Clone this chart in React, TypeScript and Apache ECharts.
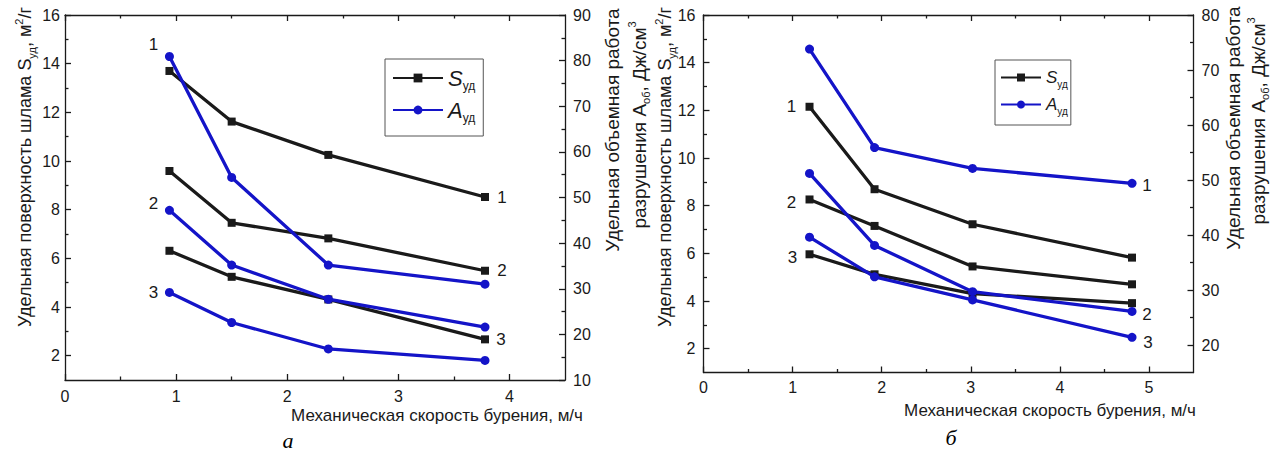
import React, { useEffect, useRef } from 'react';
import * as echarts from 'echarts';

// ---- data: chart а ----
const xA = [0.94, 1.5, 2.37, 3.78];
const sA1 = [13.7, 11.62, 10.25, 8.52];
const sA2 = [9.59, 7.46, 6.82, 5.49];
const sA3 = [6.31, 5.24, 4.31, 2.67];
const aA1 = [80.9, 54.4, 35.2, 31.0];
const aA2 = [47.2, 35.2, 27.7, 21.6];
const aA3 = [29.2, 22.6, 16.8, 14.3];

// ---- data: chart б ----
const xB = [1.19, 1.92, 3.02, 4.81];
const sB1 = [12.15, 8.69, 7.22, 5.82];
const sB2 = [8.26, 7.15, 5.45, 4.7];
const sB3 = [5.96, 5.12, 4.31, 3.91];
const aB1 = [73.8, 55.9, 52.1, 49.4];
const aB2 = [51.2, 38.1, 29.7, 26.1];
const aB3 = [39.6, 32.4, 28.2, 21.4];

// ---- ticks ----
const xTickA = [0, 1, 2, 3, 4];
const xMinorA = [0.5, 1.5, 2.5, 3.5];
const xTickB = [0, 1, 2, 3, 4, 5];
const xMinorB = [0.5, 1.5, 2.5, 3.5, 4.5];
const sTick = [2, 4, 6, 8, 10, 12, 14, 16];
const sMinor = [3, 5, 7, 9, 11, 13, 15];
const aTickA = [10, 20, 30, 40, 50, 60, 70, 80, 90];
const aMinorA = [15, 25, 35, 45, 55, 65, 75, 85];
const aTickB = [20, 30, 40, 50, 60, 70, 80];
const aMinorB = [25, 35, 45, 55, 65, 75];

const curveLabels = ['1', '2', '3'];

const FONT = "'Liberation Sans', Arial, sans-serif";
const SERIF = "'Liberation Serif', 'Times New Roman', serif";
const INK = '#1a1a1a';
const BLUE = '#1414c8';

const lineSt = { color: INK, width: 1.3 };

function axisPair(grid: number, position: string, min: number, max: number, major: number[], minor: number[], labels: boolean, margin: number) {
  const base: any = { type: 'value', gridIndex: grid, position, min, max, splitLine: { show: false } };
  return [
    {
      ...base,
      axisLine: { show: true, onZero: false, lineStyle: lineSt },
      axisTick: { show: true, inside: true, length: 6, customValues: major, lineStyle: lineSt },
      axisLabel: { show: labels, customValues: major, margin, color: INK, fontSize: 16, fontFamily: FONT },
    },
    {
      ...base,
      axisLine: { show: false, onZero: false },
      axisTick: { show: true, inside: true, length: 3.5, customValues: minor, lineStyle: lineSt },
      axisLabel: { show: false },
    },
  ];
}

type Lab = [number, string, number, number];

function mk(name: string, xs: number[], ys: number[], xi: number, yi: number, color: string, symbol: string, size: number, labs: Lab[] = []) {
  return {
    type: 'line',
    name,
    xAxisIndex: xi,
    yAxisIndex: yi,
    symbol,
    symbolSize: size,
    showAllSymbol: true,
    lineStyle: { color, width: 3.3 },
    itemStyle: { color },
    z: color === BLUE ? 4 : 3,
    data: xs.map((x, i) => {
      const l = labs.find((q) => q[0] === i);
      const item: any = { value: [x, ys[i]] };
      if (l) {
        item.label = {
          show: true,
          formatter: l[1],
          position: 'inside',
          offset: [l[2], l[3]],
          color: INK,
          fontSize: 17,
          fontFamily: FONT,
        };
      }
      return item;
    }),
  };
}

const nRich = (fs: number) => ({
  n: { fontSize: fs, fontFamily: FONT, fill: INK, lineHeight: fs + 6, verticalAlign: 'middle' },
  sub: { fontSize: 11, fontFamily: FONT, fill: INK, lineHeight: 11, verticalAlign: 'bottom' },
  sup: { fontSize: 11, fontFamily: FONT, fill: INK, lineHeight: 11, verticalAlign: 'top' },
});

function vText(x: number, y: number, text: string, fs: number) {
  return {
    type: 'text',
    x,
    y,
    rotation: Math.PI / 2,
    style: { text, rich: nRich(fs), align: 'center', verticalAlign: 'middle', fontFamily: FONT, fontSize: fs, fill: INK },
  };
}

const legendRich = (big: number, small: number, lh: number) => ({
  i: { fontSize: big, fontStyle: 'italic', fontFamily: FONT, color: INK, lineHeight: lh, verticalAlign: 'middle' },
  sub: { fontSize: small, fontFamily: FONT, color: INK, lineHeight: small, verticalAlign: 'bottom', padding: [0, 0, -3, 0] },
});

export default function App() {
  const ref = useRef<HTMLDivElement>(null);
  useEffect(() => {
    if (!ref.current) return;
    const chart = echarts.init(ref.current, undefined, { renderer: 'svg' });
    const titleY = '{n|Удельная поверхность шлама S}{sub|уд}{n|, м}{sup|2}{n|/г}';
    const titleA1 = '{n|Удельная объемная работа}';
    const titleA2 = '{n|разрушения A}{sub|об}{n|, Дж/см}{sup|3}';
    const option: any = {
      animation: false,
      backgroundColor: '#ffffff',
      grid: [
        { left: 65, top: 15, width: 500, height: 365 },
        { left: 703.5, top: 15, width: 490, height: 357.5 },
      ],
      xAxis: [
        ...axisPair(0, 'bottom', 0, 4.5, xTickA, xMinorA, true, 8),
        ...axisPair(0, 'top', 0, 4.5, xTickA, xMinorA, false, 8),
        ...axisPair(1, 'bottom', 0, 5.5, xTickB, xMinorB, true, 7),
        ...axisPair(1, 'top', 0, 5.5, xTickB, xMinorB, false, 8),
      ],
      yAxis: [
        ...axisPair(0, 'left', 1, 16, sTick, sMinor, true, 5),
        ...axisPair(0, 'right', 10, 90, aTickA, aMinorA, true, 8),
        ...axisPair(1, 'left', 1, 16, sTick, sMinor, true, 8),
        ...axisPair(1, 'right', 15, 80, aTickB, aMinorB, true, 8),
      ],
      legend: [
        {
          orient: 'vertical',
          left: 385,
          top: 59,
          data: ['S', 'A'],
          itemWidth: 50,
          itemHeight: 11,
          itemGap: 7,
          padding: [8, 8, 12, 7],
          borderColor: '#555',
          borderWidth: 1,
          selectedMode: false,
          formatter: (n: string) => (n === 'S' ? '{i|S}{sub|уд}' : '{i|A}{sub|уд}'),
          textStyle: { rich: legendRich(22, 12, 22) },
        },
        {
          orient: 'vertical',
          left: 995,
          top: 60,
          data: ['S', 'A'],
          itemWidth: 40,
          itemHeight: 10,
          itemGap: 7,
          padding: [9, 3, 9, 5],
          borderColor: '#555',
          borderWidth: 1,
          selectedMode: false,
          formatter: (n: string) => (n === 'S' ? '{i|S}{sub|уд}' : '{i|A}{sub|уд}'),
          textStyle: { rich: legendRich(17, 10, 17) },
        },
      ],
      series: [
        mk('S', xA, sA1, 0, 0, INK, 'rect', 8, [[3, curveLabels[0], 17, 0]]),
        mk('S', xA, sA2, 0, 0, INK, 'rect', 8, [[3, curveLabels[1], 17, 0]]),
        mk('S', xA, sA3, 0, 0, INK, 'rect', 8, [[3, curveLabels[2], 16, 0]]),
        mk('A', xA, aA1, 0, 2, BLUE, 'circle', 9, [[0, curveLabels[0], -16, -12]]),
        mk('A', xA, aA2, 0, 2, BLUE, 'circle', 9, [[0, curveLabels[1], -16, -7]]),
        mk('A', xA, aA3, 0, 2, BLUE, 'circle', 9, [[0, curveLabels[2], -16, 0]]),
        mk('S', xB, sB1, 4, 4, INK, 'rect', 8, [[0, curveLabels[0], -18, 0]]),
        mk('S', xB, sB2, 4, 4, INK, 'rect', 8, [[0, curveLabels[1], -18, 3]]),
        mk('S', xB, sB3, 4, 4, INK, 'rect', 8, [[0, curveLabels[2], -17, 3]]),
        mk('A', xB, aB1, 4, 6, BLUE, 'circle', 9, [[3, curveLabels[0], 15, 2]]),
        mk('A', xB, aB2, 4, 6, BLUE, 'circle', 9, [[3, curveLabels[1], 15, 3]]),
        mk('A', xB, aB3, 4, 6, BLUE, 'circle', 9, [[3, curveLabels[2], 16, 5]]),
      ],
      graphic: [
        vText(25, 167, titleY, 18),
        vText(612, 130, titleA1, 19),
        vText(639, 125, titleA2, 19),
        vText(665, 167, titleY, 18),
        vText(1233, 128, titleA1, 19),
        vText(1258, 121, titleA2, 19),
        {
          type: 'text', x: 437, y: 415,
          style: { text: 'Механическая скорость бурения, м/ч', fontSize: 17, fontFamily: FONT, fill: INK, align: 'center', verticalAlign: 'middle' },
        },
        {
          type: 'text', x: 1050, y: 410,
          style: { text: 'Механическая скорость бурения, м/ч', fontSize: 17, fontFamily: FONT, fill: INK, align: 'center', verticalAlign: 'middle' },
        },
        {
          type: 'text', x: 288, y: 440,
          style: { text: 'а', fontSize: 22, fontStyle: 'italic', fontFamily: SERIF, fill: '#000', align: 'center', verticalAlign: 'middle' },
        },
        {
          type: 'text', x: 951, y: 437,
          style: { text: 'б', fontSize: 22, fontStyle: 'italic', fontFamily: SERIF, fill: '#000', align: 'center', verticalAlign: 'middle' },
        },
      ],
    };
    chart.setOption(option);
    return () => chart.dispose();
  }, []);
  return <div ref={ref} style={{ position: 'fixed', left: 0, top: 0, width: 1280, height: 452, background: '#fff' }} />;
}
